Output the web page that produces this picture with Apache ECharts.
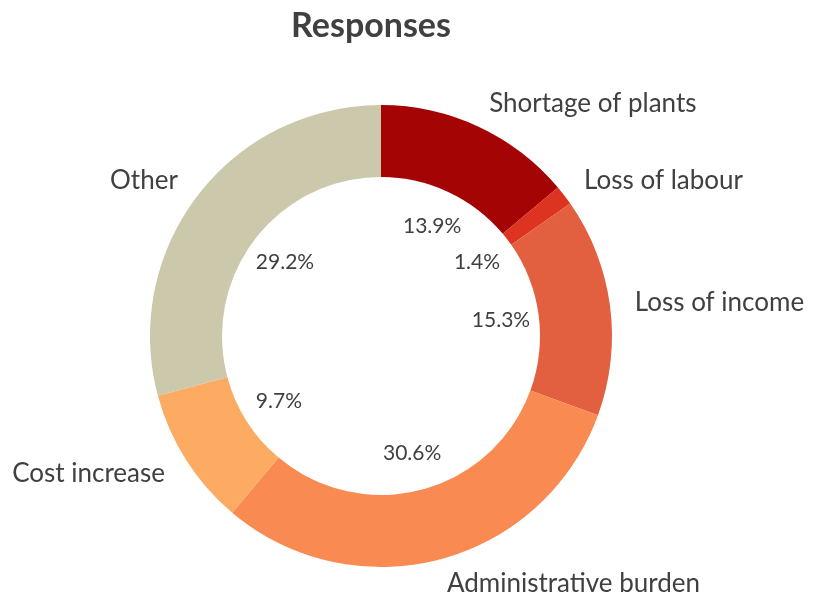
<!DOCTYPE html>
<html>
<head>
<meta charset="utf-8">
<script src="https://cdn.jsdelivr.net/npm/echarts@6/dist/echarts.min.js"></script>
<style>
  html, body { margin: 0; padding: 0; background: #fff; }
  #chart { width: 821px; height: 599px; }
</style>
</head>
<body>
<div id="chart"></div>
<script>
// Share of responses by category (percent)
const categories = ['Shortage of plants', 'Loss of labour', 'Loss of income',
                    'Administrative burden', 'Cost increase', 'Other'];
const shares = [13.9, 1.4, 15.3, 30.6, 9.7, 29.2];
const colors = ['#a50404', '#dc3420', '#e2603f', '#f98a52', '#fdaa62', '#cbc8ac'];

const FONT = 'Lato, "Open Sans", sans-serif';
const center = [381, 336];

const ringData = categories.map((name, i) => ({
  name, value: shares[i], itemStyle: { color: colors[i] }
}));
const labelData = categories.map((name, i) => ({ name, value: shares[i] }));

const chart = echarts.init(document.getElementById('chart'), null, { renderer: 'canvas' });
chart.setOption({
  animation: false,
  backgroundColor: '#fff',
  title: {
    text: 'Responses',
    left: 366, top: 4, textAlign: 'center',
    textStyle: { fontFamily: FONT, fontSize: 34, fontWeight: 'bold', color: '#404040' }
  },
  series: [
    {
      // the donut ring with category names outside
      type: 'pie',
      center, radius: [159, 231],
      startAngle: 90, clockwise: true,
      avoidLabelOverlap: false,
      data: ringData,
      itemStyle: { borderWidth: 0 },
      label: {
        show: true, position: 'outside',
        formatter: '{b}',
        fontFamily: FONT, fontSize: 26, color: '#404040',
        distanceToLabelLine: 0
      },
      labelLine: { show: false, length: 25, length2: 0 },
      emphasis: { disabled: true }
    },
    {
      // invisible disc that places the percentage labels inside the hole
      type: 'pie',
      center, radius: [0, 236],
      startAngle: 90, clockwise: true,
      silent: true,
      data: labelData,
      itemStyle: { color: 'rgba(0,0,0,0)' },
      label: {
        show: true, position: 'inside',
        formatter: p => p.value.toFixed(1) + '%',
        fontFamily: FONT, fontSize: 21, color: '#404040'
      },
      labelLine: { show: false },
      emphasis: { disabled: true }
    }
  ]
});
</script>
</body>
</html>
